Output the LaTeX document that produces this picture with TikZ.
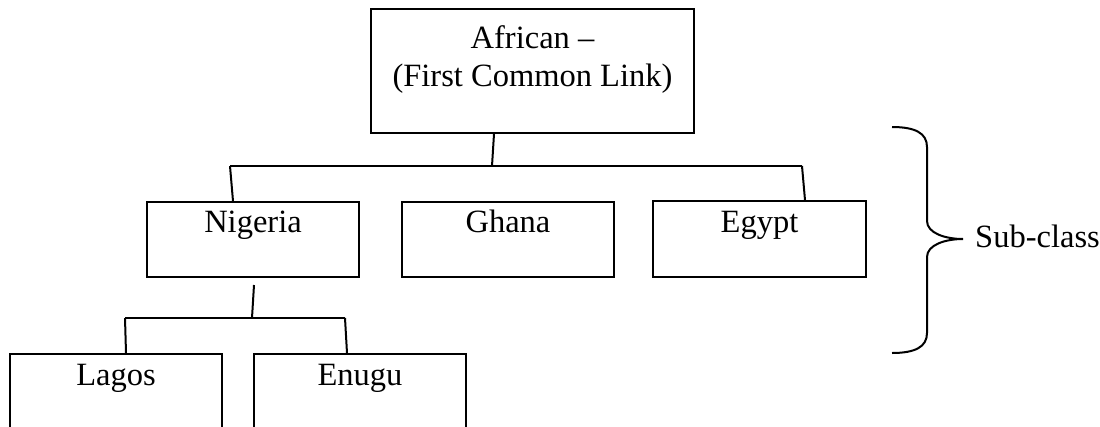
\documentclass[tikz,border=0pt]{standalone}
\usepackage{fontspec}
\setmainfont{Liberation Serif}
\begin{document}
\begin{tikzpicture}[x=1pt,y=-1pt,
  box/.style={draw, line width=2pt, inner sep=0pt, minimum height=75pt, minimum width=212pt},
  txt/.style={inner sep=0pt, anchor=base, font=\fontsize{32.5}{38}\selectfont},
  link/.style={line width=2pt}]
\useasboundingbox (0,0) rectangle (1100,426);
\clip (0,0) rectangle (1100,426);
\fill[white] (0,0) rectangle (1100,426);

% boxes
\node[box, minimum width=323pt, minimum height=124pt] (african) at (532.5,71) {};
\node[box] (nigeria) at (253,239.5) {};
\node[box] (ghana) at (508,239.5) {};
\node[box, minimum width=213pt, minimum height=76pt] (egypt) at (759.5,239) {};
\node[box, minimum height=110pt] (lagos) at (116,409) {};
\node[box, minimum height=110pt] (enugu) at (360,409) {};

% labels (a multi-line node sits on the baseline of its last line)
\node[txt, align=center] (africantxt) at (532.5,86) {African –\\(First Common Link)};
\node[txt] (nigeriatxt) at (253,232) {Nigeria};
\node[txt] (ghanatxt) at (508,232) {Ghana};
\node[txt] (egypttxt) at (759.5,232) {Egypt};
\node[txt] (lagostxt) at (116,385) {Lagos};
\node[txt] (enugutxt) at (360,385) {Enugu};

% first level bus
\coordinate (busA) at (492,166);
\coordinate (busL) at (230,166);
\coordinate (busR) at (802,166);
\draw[link] ([xshift=-38.5pt]african.south) -- (busA);
\draw[link] (busL) -- (busR);
\draw[link] (busL) -- ([xshift=-20pt]nigeria.north);
\draw[link] (busR) -- ([xshift=45.5pt]egypt.north);

% second level bus
\coordinate (busB) at (252,318);
\coordinate (busBL) at (125,318);
\coordinate (busBR) at (345,318);
\draw[link] ([xshift=1pt,yshift=-7pt]nigeria.south) -- (busB);
\draw[link] (busBL) -- (busBR);
\draw[link] (busBL) -- ([xshift=10pt]lagos.north);
\draw[link] (busBR) -- ([xshift=-13pt]enugu.north);

% brace
\coordinate (tip) at (963,239);
\draw[link] (892,127) .. controls (915,127) and (927,133) .. (927,147)
  -- (927,221) .. controls (927,233) and (945,239) .. (tip)
  .. controls (945,239) and (927,245) .. (927,257)
  -- (927,333) .. controls (927,347) and (915,353) .. (892,353);
\node[txt, anchor=base west] (subclass) at (975,247) {Sub-class};
\end{tikzpicture}
\end{document}
